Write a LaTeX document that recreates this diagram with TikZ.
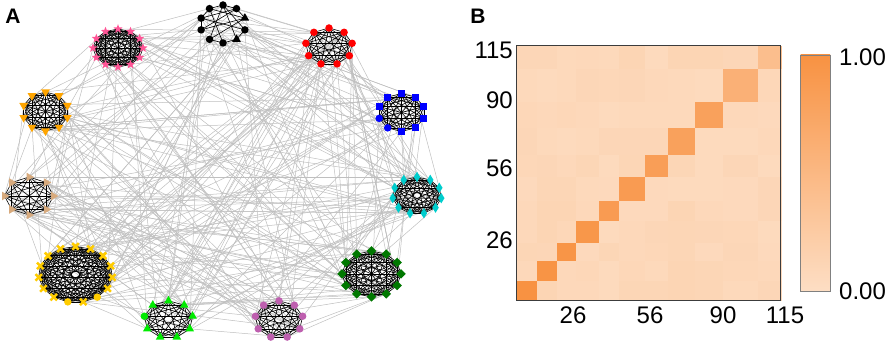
\documentclass[tikz,border=0pt]{standalone}
\usepackage{fontspec}
\setmainfont{Liberation Sans}
\usetikzlibrary{shapes.geometric, shapes.misc, backgrounds}
\definecolor{heathi}{RGB}{248,146,66}
\definecolor{heatlo}{RGB}{253,222,196}
\definecolor{hotpink}{RGB}{255,85,150}
\definecolor{tanmk}{RGB}{215,170,125}
\definecolor{goldmk}{RGB}{255,204,0}
\definecolor{limemk}{RGB}{0,235,0}
\definecolor{orchidmk}{RGB}{190,95,175}
\definecolor{dkgreenmk}{RGB}{0,120,0}
\definecolor{cyanmk}{RGB}{0,205,205}
\definecolor{orangemk}{RGB}{255,165,0}
\definecolor{framegray}{RGB}{60,60,60}
\def\nlist{{10,9,10,11,12,9,9,15,8,10,12}}
\def\cum{{0,9,18,26,36,45,56,66,78,90,105,115}}
\def\diagv{{100,98,96,94,88,88,84,80,80,60,42}}

\tikzset{
  vtx/.style={inner sep=0pt, outer sep=0pt},
  mcirc/.style={vtx, circle, fill=#1, minimum size=7.5pt},
  msq/.style={vtx, rectangle, fill=#1, minimum size=7pt},
  mdia/.style={vtx, diamond, fill=#1, minimum width=9.5pt, minimum height=9.5pt},
  mdiav/.style={vtx, diamond, fill=#1, minimum width=6.5pt, minimum height=10.5pt},
  mstar/.style={vtx, star, star points=5, star point ratio=2.3, fill=#1, minimum size=9.5pt},
  mtriu/.style={vtx, regular polygon, regular polygon sides=3, fill=#1, minimum size=10pt},
  mtrid/.style={mtriu=#1, shape border rotate=180},
  mtrir/.style={mtriu=#1, shape border rotate=-90},
  mcross/.style={vtx, cross out, draw=#1, line width=2.5pt, minimum size=6.5pt},
  inlink/.style={black, line width=0.6pt},
  outlink/.style={black!25, line width=0.5pt},
  tick/.style={font=\fontsize{24}{28}\selectfont, inner sep=0pt},
  panel/.style={font=\fontsize{21}{24}\selectfont\bfseries, inner sep=0pt},
}

\begin{document}
\begin{tikzpicture}[x=1pt, y=1pt]
  \useasboundingbox (0,0) rectangle (886,344);

  % A: clusters
  \foreach \k/\cx/\cy/\rx/\ry/\n/\mk/\col/\alt/\aa/\ab in {
      1/223/320/23/19/10/mcirc/black/mtriu/3/5,
      2/329/297.5/23.5/18.5/9/mcirc/red/mcirc/0/0,
      3/401.5/231.5/23.5/19/10/msq/blue/mcirc/7/8,
      4/417/148.5/24.5/18.5/11/mdiav/cyanmk/mdiav/0/0,
      5/371.5/70/29.5/23/12/mdia/dkgreenmk/mdia/0/0,
      6/279/24.5/24/18.7/9/mcirc/orchidmk/mcirc/0/0,
      7/168.5/24.5/24.5/18.7/9/mtriu/limemk/mcirc/8/0,
      8/75.5/69.5/37/28/15/mcross/goldmk/mcirc/7/9,
      9/29/148/24.5/19/8/mtrir/tanmk/mtrir/0/0,
      10/45.5/232.5/23/19.5/10/mtrid/orangemk/mtrid/0/0,
      11/118/296/25/19/12/mstar/hotpink/mstar/0/0} {
    \foreach \j in {1,...,\n} {
      \pgfmathsetmacro\ang{90-(\j-1)*360/\n}
      \ifnum\j=\aa \def\shp{\alt}\else\ifnum\j=\ab \def\shp{\alt}\else\def\shp{\mk}\fi\fi
      \node[\shp=\col] (c\k-\j) at ({\cx+\rx*cos(\ang)},{\cy+\ry*sin(\ang)}) {};
    }
  }

  \begin{pgfonlayer}{background}
    % links between clusters
    \pgfmathsetseed{42}
    \foreach \e in {1,...,270} {
      \pgfmathtruncatemacro\ka{random(1,11)}
      \pgfmathtruncatemacro\kb{mod(\ka+random(1,10)-1,11)+1}
      \pgfmathtruncatemacro\na{\nlist[\ka-1]}
      \pgfmathtruncatemacro\nb{\nlist[\kb-1]}
      \pgfmathtruncatemacro\ia{random(1,\na)}
      \pgfmathtruncatemacro\ib{random(1,\nb)}
      \draw[outlink] (c\ka-\ia.center) -- (c\kb-\ib.center);
    }
    % links inside clusters
    \foreach \k in {2,...,11} {
      \pgfmathtruncatemacro\nk{\nlist[\k-1]}
      \foreach \j in {1,...,\nk} \foreach \l in {1,...,\nk} {
        \ifnum\l>\j \draw[inlink] (c\k-\j.center) -- (c\k-\l.center); \fi
      }
    }
    \foreach \j/\l in {1/2,2/3,4/5,5/6,6/7,8/9,9/10,10/1,1/5,1/7,2/8,2/9,3/8,3/10,4/9,6/10,4/1,7/3}
      \draw[inlink] (c1-\j.center) -- (c1-\l.center);
  \end{pgfonlayer}

  % B: heat map
  \begin{scope}[shift={(516,44)}, x=2.3017pt, y=2.2113pt]
    \pgfmathsetseed{11}
    \foreach \i in {0,...,10} \foreach \j in {0,...,10} {
      \pgfmathtruncatemacro\xa{\cum[\j]}
      \pgfmathtruncatemacro\xb{\cum[\j+1]}
      \pgfmathtruncatemacro\ya{\cum[\i]}
      \pgfmathtruncatemacro\yb{\cum[\i+1]}
      \ifnum\i=\j \pgfmathtruncatemacro\v{\diagv[\i]}\else\pgfmathtruncatemacro\v{random(5,12)}\fi
      \path[fill=heathi!\v!heatlo, draw=heathi!\v!heatlo, line width=0.2pt] (\xa,\ya) rectangle (\xb,\yb);
    }
    \draw[framegray, line width=0.9pt] (0,0) rectangle (115,115);
  \end{scope}

  % colour bar
  \shade[bottom color=heatlo, top color=heathi] (800.7,53) rectangle (830,289);
  \draw[gray, line width=0.7pt] (800.7,53) rectangle (830,289);

  \node[tick] (xt26) at (573,29) {26};
  \node[tick] (xt56) at (650,29) {56};
  \node[tick] (xt90) at (723,29) {90};
  \node[tick] (xt115) at (785,29) {115};
  \node[tick, anchor=east] (yt115) at (513,293.5) {115};
  \node[tick, anchor=east] (yt90) at (513,244) {90};
  \node[tick, anchor=east] (yt56) at (513,176) {56};
  \node[tick, anchor=east] (yt26) at (513,104) {26};
  \node[tick, anchor=west] (cbhi) at (839,287) {1.00};
  \node[tick, anchor=west] (cblo) at (839,53) {0.00};

  \node[panel] (lblA) at (13,328) {A};
  \node[panel] (lblB) at (478,328) {B};
\end{tikzpicture}
\end{document}
